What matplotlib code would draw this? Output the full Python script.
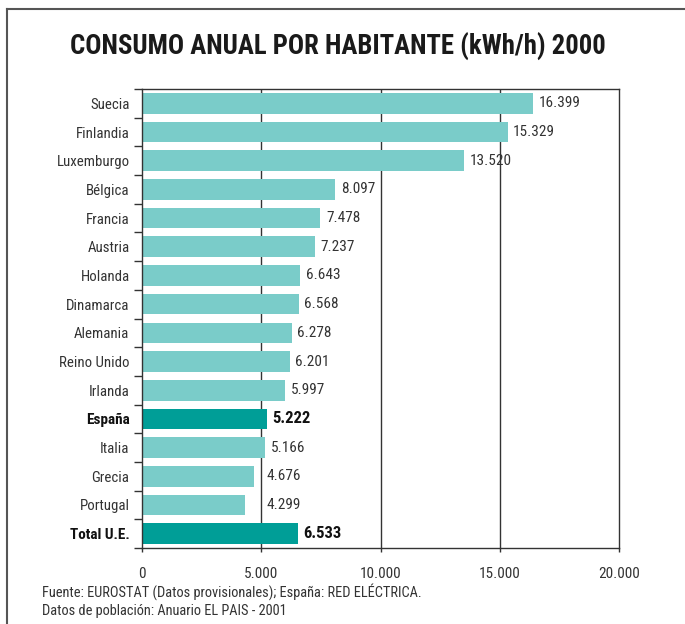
import matplotlib
matplotlib.use("Agg")
import matplotlib.pyplot as plt
from matplotlib.lines import Line2D

plt.rcParams['font.family'] = ['Roboto Condensed', 'DejaVu Sans']

countries = ["Suecia", "Finlandia", "Luxemburgo", "Bélgica", "Francia", "Austria",
             "Holanda", "Dinamarca", "Alemania", "Reino Unido", "Irlanda", "España",
             "Italia", "Grecia", "Portugal", "Total U.E."]
values = [16399, 15329, 13520, 8097, 7478, 7237, 6643, 6568, 6278, 6201, 5997,
          5222, 5166, 4676, 4299, 6533]
value_labels = ["16.399", "15.329", "13.520", "8.097", "7.478", "7.237", "6.643",
                "6.568", "6.278", "6.201", "5.997", "5.222", "5.166", "4.676",
                "4.299", "6.533"]
highlight = ["España", "Total U.E."]
xticks = [0, 5000, 10000, 15000, 20000]
xtick_labels = ["0", "5.000", "10.000", "15.000", "20.000"]

LIGHT = "#7ACCC9"
DARK = "#009E97"
GREY = "#333333"

fig = plt.figure(figsize=(6.85, 6.24), dpi=100)
ax = fig.add_axes([142/685, 1-548/624, (619-142)/685, (548-89)/624])

n = len(countries)
ypos = list(range(n))
colors = [DARK if c in highlight else LIGHT for c in countries]
ax.barh(ypos, values, height=0.72, color=colors, zorder=2)

ax.set_xlim(0, 20000)
ax.set_ylim(n - 0.5, -0.5)

for x in xticks[1:-1]:
    ax.axvline(x, color=GREY, lw=1.0, zorder=1)

ax.set_xticks(xticks)
ax.set_xticklabels(xtick_labels, fontsize=11, color=GREY)
ax.tick_params(axis='x', length=3, width=1, color=GREY, pad=11)

ax.set_yticks(ypos)
ax.set_yticklabels(countries, fontsize=10.7, color=GREY)
ax.tick_params(axis='y', length=0, pad=9)
for lbl in ax.get_yticklabels():
    if lbl.get_text() in highlight:
        lbl.set_fontweight('bold')
        lbl.set_fontsize(11)
        lbl.set_color('#111111')
ax.set_yticks([i + 0.5 for i in range(-1, n)], minor=True)
ax.tick_params(axis='y', which='minor', length=6, width=1, color=GREY)

for s in ax.spines.values():
    s.set_color(GREY)
    s.set_linewidth(1.0)

for i, (v, lab, c) in enumerate(zip(values, value_labels, countries)):
    bold = c in highlight
    xv = max(v, 5000)
    ax.annotate(lab, (xv, i), xytext=(4, 0), textcoords='offset points',
                va='center', ha='left', fontsize=12 if bold else 11,
                fontweight='bold' if bold else 'normal',
                color='#111111' if bold else GREY, zorder=3)

fig.text(70/685, 1-47/624, "CONSUMO ANUAL POR HABITANTE (kWh/h) 2000",
         fontsize=19.3, fontweight='bold', color='#1a1a1a', ha='left', va='center')

fig.text(42/685, 1-592/624,
         "Fuente: EUROSTAT (Datos provisionales); España: RED ELÉCTRICA.",
         fontsize=10.4, color=GREY, ha='left', va='center')
fig.text(42/685, 1-611/624, "Datos de población: Anuario EL PAIS - 2001",
         fontsize=10.4, color=GREY, ha='left', va='center')

fig.add_artist(Line2D([7/685, 7/685], [0, 1-9/624], transform=fig.transFigure,
                      color="#555555", lw=1.5))
fig.add_artist(Line2D([7/685, 1], [1-9/624, 1-9/624], transform=fig.transFigure,
                      color="#555555", lw=1.5))

fig.savefig("out.png", dpi=100)
